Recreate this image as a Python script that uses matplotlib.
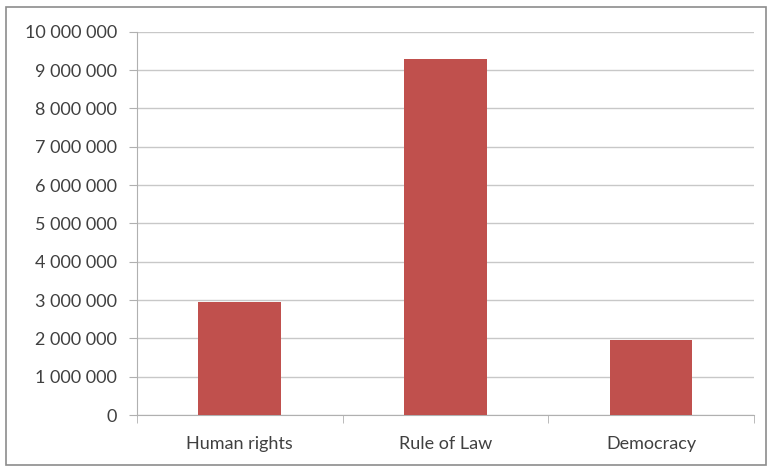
import matplotlib.pyplot as plt
from matplotlib.patches import Rectangle
from matplotlib.ticker import FuncFormatter, MultipleLocator, FixedLocator

categories = ["Human rights", "Rule of Law", "Democracy"]
values = [2950000, 9290000, 1960000]

plt.rcParams['font.family'] = ['Lato', 'DejaVu Sans']

fig = plt.figure(figsize=(7.68, 4.68), dpi=100)
ax = fig.add_axes([0.178, 0.113, 0.804, 0.819])

x = range(len(categories))
ax.bar(x, values, width=0.4, color='#c0504d', zorder=3)

ax.set_xlim(-0.5, len(categories) - 0.5)
ax.set_ylim(0, 10000000)
ax.yaxis.set_major_locator(MultipleLocator(1000000))
ax.yaxis.set_major_formatter(FuncFormatter(lambda v, p: f"{int(v):,}".replace(",", " ")))
ax.set_xticks(list(x))
ax.set_xticklabels(categories)
ax.xaxis.set_minor_locator(FixedLocator([i - 0.5 for i in range(len(categories) + 1)]))

ax.grid(axis='y', color='#c8c8c8', linewidth=1, zorder=0)
for s in ['top', 'right']:
    ax.spines[s].set_visible(False)
for s in ['left', 'bottom']:
    ax.spines[s].set_color('#b0b0b0')
ax.tick_params(axis='y', length=6, color='#b0b0b0', labelsize=13, labelcolor='#404040', pad=8)
ax.tick_params(axis='x', which='major', length=0, labelsize=13, labelcolor='#404040', pad=15)
ax.tick_params(axis='x', which='minor', length=6, color='#b0b0b0')

fig.patches.append(Rectangle((6 / 768, 3 / 468), 760 / 768, 458 / 468, transform=fig.transFigure,
                             fill=False, edgecolor='#8c8c8c', linewidth=1.2))

fig.savefig("out.png", dpi=100)
